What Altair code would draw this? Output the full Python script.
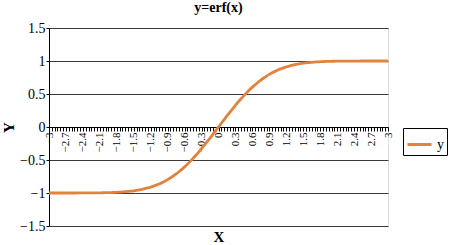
import altair as alt
import pandas as pd

# x categories (step 0.05)
xs = [-3.0, -2.95, -2.9, -2.85, -2.8, -2.75, -2.7, -2.65, -2.6, -2.55,
      -2.5, -2.45, -2.4, -2.35, -2.3, -2.25, -2.2, -2.15, -2.1, -2.05,
      -2.0, -1.95, -1.9, -1.85, -1.8, -1.75, -1.7, -1.65, -1.6, -1.55,
      -1.5, -1.45, -1.4, -1.35, -1.3, -1.25, -1.2, -1.15, -1.1, -1.05,
      -1.0, -0.95, -0.9, -0.85, -0.8, -0.75, -0.7, -0.65, -0.6, -0.55,
      -0.5, -0.45, -0.4, -0.35, -0.3, -0.25, -0.2, -0.15, -0.1, -0.05,
      0.0,
      0.05, 0.1, 0.15, 0.2, 0.25, 0.3, 0.35, 0.4, 0.45, 0.5,
      0.55, 0.6, 0.65, 0.7, 0.75, 0.8, 0.85, 0.9, 0.95, 1.0,
      1.05, 1.1, 1.15, 1.2, 1.25, 1.3, 1.35, 1.4, 1.45, 1.5,
      1.55, 1.6, 1.65, 1.7, 1.75, 1.8, 1.85, 1.9, 1.95, 2.0,
      2.05, 2.1, 2.15, 2.2, 2.25, 2.3, 2.35, 2.4, 2.45, 2.5,
      2.55, 2.6, 2.65, 2.7, 2.75, 2.8, 2.85, 2.9, 2.95, 3.0]

# y values
ys = [-1.0, -1.0, -1.0, -1.0, -0.9999, -0.9999, -0.9999, -0.9998, -0.9998, -0.9997,
      -0.9996, -0.9995, -0.9993, -0.9991, -0.9989, -0.9985, -0.9981, -0.9976, -0.997, -0.9963,
      -0.9953, -0.9942, -0.9928, -0.9911, -0.9891, -0.9867, -0.9838, -0.9804, -0.9763, -0.9716,
      -0.9661, -0.9597, -0.9523, -0.9438, -0.934, -0.9229, -0.9103, -0.8961, -0.8802, -0.8624,
      -0.8427, -0.8209, -0.7969, -0.7707, -0.7421, -0.7112, -0.6778, -0.642, -0.6039, -0.5633,
      -0.5205, -0.4755, -0.4284, -0.3794, -0.3286, -0.2763, -0.2227, -0.168, -0.1125, -0.0564,
      0.0,
      0.0564, 0.1125, 0.168, 0.2227, 0.2763, 0.3286, 0.3794, 0.4284, 0.4755, 0.5205,
      0.5633, 0.6039, 0.642, 0.6778, 0.7112, 0.7421, 0.7707, 0.7969, 0.8209, 0.8427,
      0.8624, 0.8802, 0.8961, 0.9103, 0.9229, 0.934, 0.9438, 0.9523, 0.9597, 0.9661,
      0.9716, 0.9763, 0.9804, 0.9838, 0.9867, 0.9891, 0.9911, 0.9928, 0.9942, 0.9953,
      0.9963, 0.997, 0.9976, 0.9981, 0.9985, 0.9989, 0.9991, 0.9993, 0.9995, 0.9996,
      0.9997, 0.9998, 0.9998, 0.9999, 0.9999, 0.9999, 1.0, 1.0, 1.0, 1.0]

y_ticks = [-1.5, -1.0, -0.5, 0.0, 0.5, 1.0, 1.5]
series_name = ["y"]
line_color = ["#e3823c"]

df = pd.DataFrame({"x": xs, "y": ys, "series": series_name * len(xs)})

W, H = 339, 198
FONT = "Liberation Serif"

chart = alt.Chart(df).mark_line(strokeWidth=2.8, interpolate="monotone").encode(
    x=alt.X(
        "x:Q",
        scale=alt.Scale(domain=[-3, 3], nice=False, zero=False),
        axis=alt.Axis(
            values=xs,
            format=".1~f",
            labelExpr="abs(round(datum.value*20)) % 6 == 0 ? datum.label : ''",
            labelAngle=270,
            labelFont=FONT,
            labelFontSize=11,
            labelColor="#000000",
            labelPadding=1,
            labelOverlap=False,
            labelFlush=False,
            tickSize=4,
            tickColor="#000000",
            domainColor="#000000",
            grid=False,
            offset=-H / 2,
            title="X",
            titleFont=FONT,
            titleFontSize=15,
            titleFontWeight="bold",
            titleColor="#000000",
            titleX=W / 2,
            titleY=109,
            titleBaseline="middle",
            titleAlign="center",
        ),
    ),
    y=alt.Y(
        "y:Q",
        scale=alt.Scale(domain=[-1.5, 1.5], nice=False),
        axis=alt.Axis(
            values=y_ticks,
            format=".1~f",
            labelFont=FONT,
            labelFontSize=14,
            labelColor="#000000",
            labelPadding=1,
            tickSize=3,
            tickColor="#000000",
            domainColor="#000000",
            grid=True,
            gridColor="#3a3a3a",
            gridWidth=1,
            title="Y",
            titleFont=FONT,
            titleFontSize=15,
            titleFontWeight="bold",
            titleColor="#000000",
            titleAngle=270,
            titleX=-41,
            titleY=H / 2,
            titleBaseline="middle",
            titleAlign="center",
        ),
    ),
    color=alt.Color(
        "series:N",
        scale=alt.Scale(domain=series_name, range=line_color),
        legend=alt.Legend(
            title=None,
            orient="none",
            legendX=354,
            legendY=100,
            strokeColor="#000000",
            padding=3,
            symbolType="stroke",
            symbolSize=576,
            symbolStrokeWidth=3,
            labelFont=FONT,
            labelFontSize=14,
            labelColor="#000000",
            labelOffset=4,
        ),
    ),
).properties(
    width=W,
    height=H,
    autosize=alt.AutoSizeParams(type="none"),
    padding={"left": 49, "top": 28, "right": 62, "bottom": 19},
    title=alt.TitleParams(
        "y=erf(x)",
        font=FONT,
        fontSize=14,
        fontWeight="bold",
        color="#000000",
        anchor="middle",
        offset=6,
    ),
).configure_view(stroke=None).configure(background="white")

chart.save("out.html", embed_options={"renderer": "svg", "actions": False})
